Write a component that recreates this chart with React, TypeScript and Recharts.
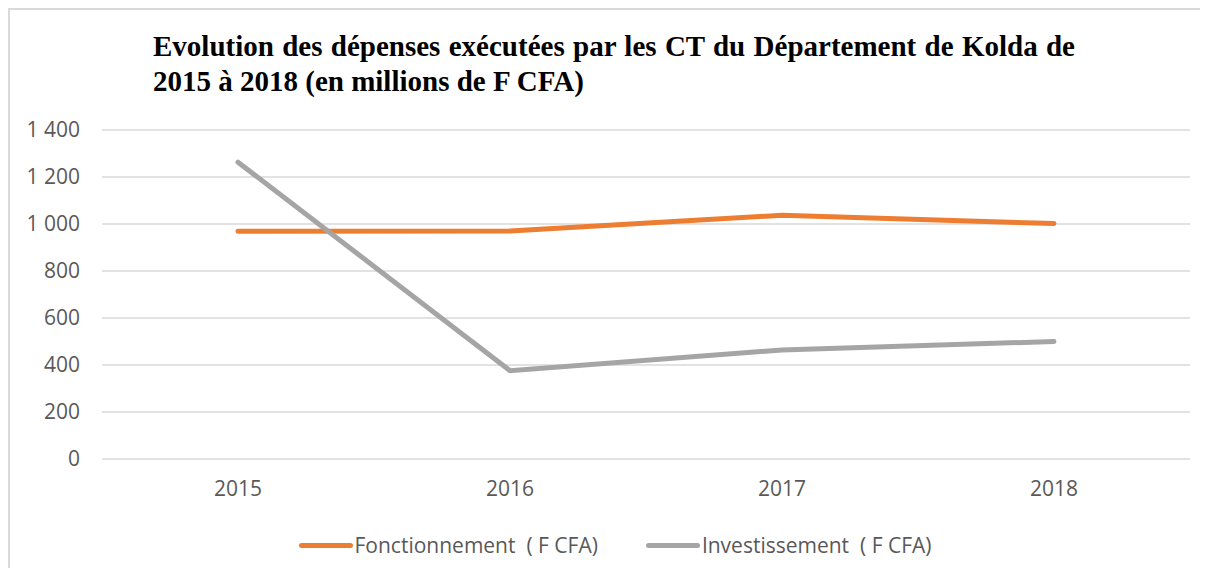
import React from 'react';
import { LineChart, Line, XAxis, YAxis, CartesianGrid, Legend } from 'recharts';

const years = ['2015', '2016', '2017', '2018'];
const fonctionnement = [969, 970, 1037, 1002];
const investissement = [1263, 376, 464, 500];
const yTicks = [0, 200, 400, 600, 800, 1000, 1200, 1400];

const FONC = 'Fonctionnement  ( F CFA)';
const INV = 'Investissement  ( F CFA)';

const data = years.map((year, i) => ({
    year,
    [FONC]: fonctionnement[i],
    [INV]: investissement[i],
}));

const sans = '"Open Sans", sans-serif';

const fmt = (v: number) => String(v).replace(/\B(?=(\d{3})+(?!\d))/g, ' ');

function LegendContent(props: any) {
    const items = props.payload || [];
    return (
        <div
            style={{
                display: 'flex',
                justifyContent: 'center',
                alignItems: 'center',
                gap: 48,
                height: 46,
                paddingLeft: 18,
            }}
        >
            {items.map((p: any) => (
                <div key={p.value} style={{ display: 'flex', alignItems: 'center' }}>
                    <span
                        style={{
                            display: 'inline-block',
                            width: 54,
                            height: 5,
                            borderRadius: 3,
                            background: p.color,
                            marginRight: 2,
                        }}
                    />
                    <span style={{ fontFamily: sans, fontSize: 21, color: '#595959', whiteSpace: 'pre' }}>
                        {p.value}
                    </span>
                </div>
            ))}
        </div>
    );
}

export default function App() {
    return (
        <div
            style={{
                position: 'relative',
                width: 1198,
                height: 558,
                borderTop: '2px solid #d9d9d9',
                borderLeft: '2px solid #d9d9d9',
                background: '#fff',
            }}
        >
            <div
                style={{
                    position: 'absolute',
                    left: 143,
                    top: 19,
                    fontFamily: '"Liberation Serif", serif',
                    fontWeight: 'bold',
                    fontSize: 29,
                    lineHeight: '35px',
                    color: '#000',
                }}
            >
                <div style={{ width: 922, textAlign: 'justify', textAlignLast: 'justify' }}>
                    Evolution des dépenses exécutées par les CT du Département de Kolda de
                </div>
                <div>2015 à 2018 (en millions de F CFA)</div>
            </div>
            <LineChart
                width={1198}
                height={558}
                data={data}
                margin={{ top: 120, right: 18, left: 12, bottom: 0 }}
            >
                <CartesianGrid vertical={false} stroke="#d9d9d9" strokeWidth={1.5} />
                <XAxis
                    dataKey="year"
                    tickLine={false}
                    axisLine={false}
                    padding={{ left: 136, right: 136 }}
                    tick={{ fill: '#595959', fontSize: 21, fontFamily: sans }}
                    tickMargin={16}
                    height={63}
                />
                <YAxis
                    domain={[0, 1400]}
                    ticks={yTicks}
                    tickFormatter={fmt}
                    tickLine={false}
                    axisLine={false}
                    width={80}
                    tickMargin={16}
                    tick={{ fill: '#595959', fontSize: 21, fontFamily: sans }}
                />
                <Legend verticalAlign="bottom" height={46} content={<LegendContent />} />
                <Line
                    dataKey={FONC}
                    stroke="#ed7d31"
                    strokeWidth={5}
                    strokeLinecap="round"
                    dot={false}
                    isAnimationActive={false}
                />
                <Line
                    dataKey={INV}
                    stroke="#a5a5a5"
                    strokeWidth={5}
                    strokeLinecap="round"
                    dot={false}
                    isAnimationActive={false}
                />
            </LineChart>
        </div>
    );
}
